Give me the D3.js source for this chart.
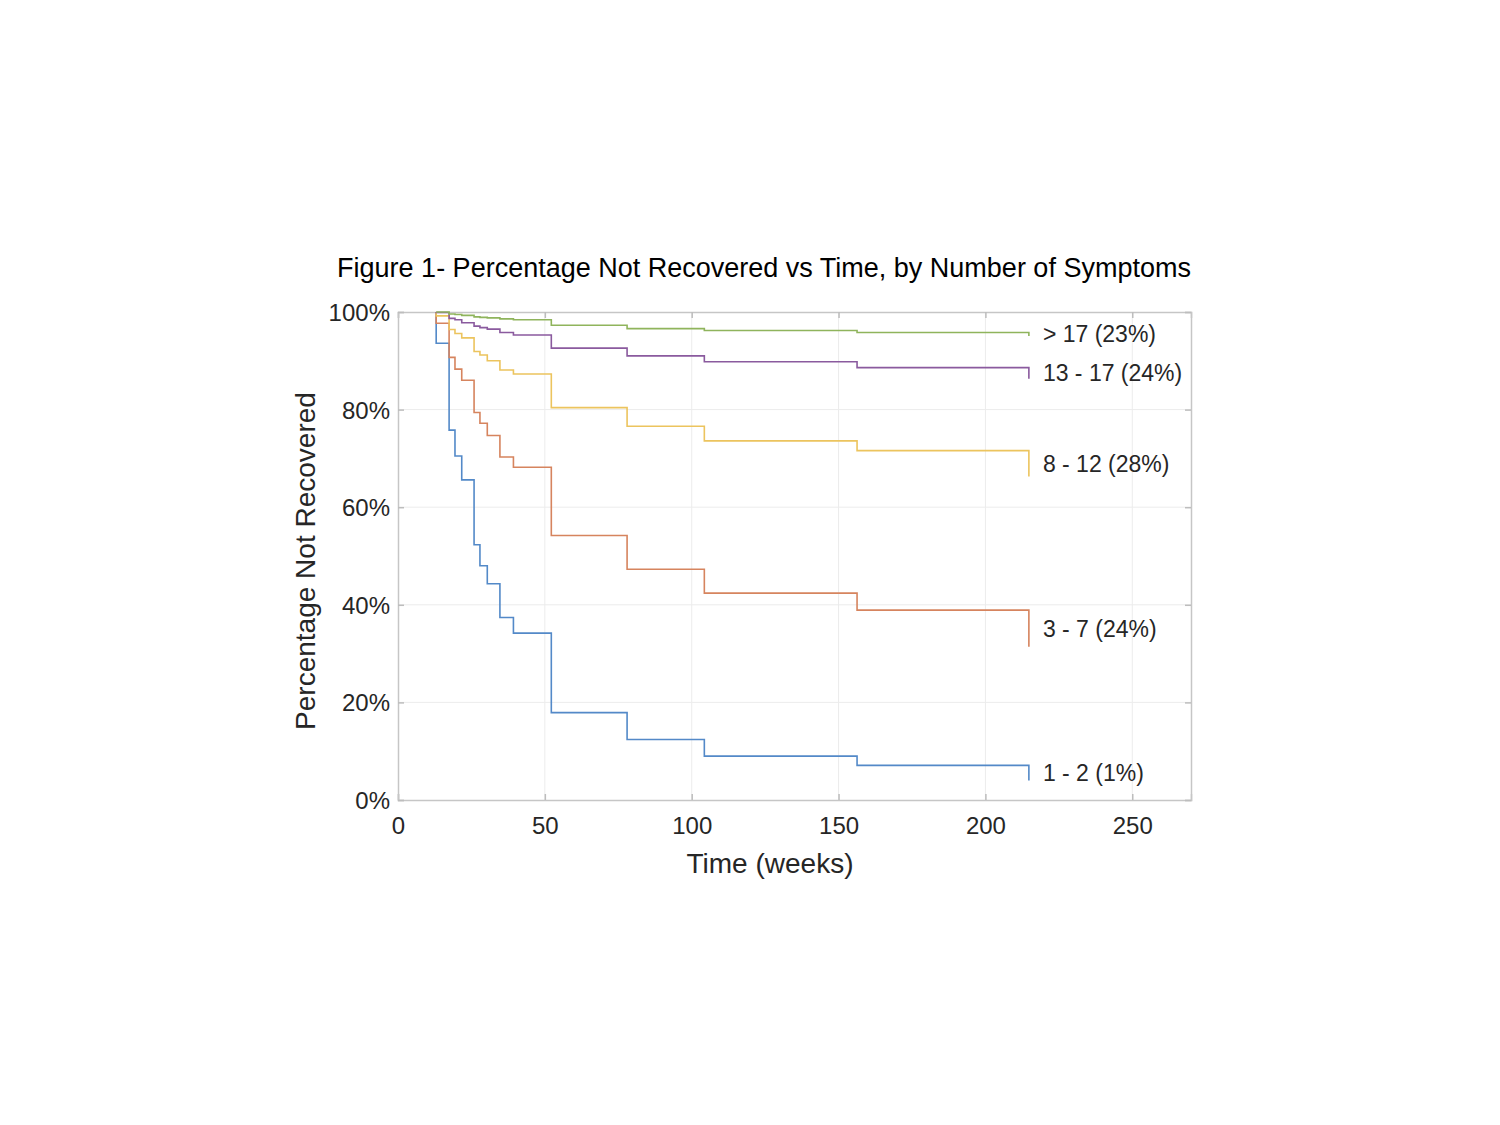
<!DOCTYPE html>
<html>
<head>
<meta charset="utf-8">
<script src="https://cdn.jsdelivr.net/npm/d3@7"></script>
<style>
  body { margin: 0; background: #fff; }
  text { font-family: "Liberation Sans", Arial, sans-serif; fill: #262626; }
</style>
</head>
<body>
<svg id="chart" width="1500" height="1125"></svg>
<script>
// step times (weeks), shared by all groups
var stepWeeks = [13, 17.4, 19.4, 21.7, 25.9, 27.9, 30.4, 34.7, 39.3, 52.2, 78, 104.3, 156.3, 214.8];

// percentage not recovered after each step
var group1to2   = [93.6, 75.8, 70.5, 65.6, 52.3, 48.0, 44.3, 37.4, 34.2, 17.9, 12.4, 9.0, 7.1, 4.0];
var group3to7   = [97.7, 90.7, 88.3, 86.0, 79.4, 77.2, 74.7, 70.3, 68.2, 54.2, 47.3, 42.4, 38.9, 31.4];
var group8to12  = [99.2, 96.4, 95.6, 94.7, 91.9, 91.2, 90.0, 88.1, 87.3, 80.4, 76.6, 73.6, 71.6, 66.3];
var group13to17 = [99.9, 98.7, 98.4, 97.8, 97.1, 96.8, 96.5, 95.8, 95.3, 92.6, 91.0, 89.8, 88.6, 86.3];
var groupOver17 = [100, 99.6, 99.5, 99.3, 99.0, 98.9, 98.8, 98.6, 98.4, 97.3, 96.6, 96.2, 95.8, 95.1];

var groupNames = ["1 - 2 (1%)", "3 - 7 (24%)", "8 - 12 (28%)", "13 - 17 (24%)", "> 17 (23%)"];
var groupColors = ["#5389c8", "#d6845e", "#ecc45e", "#8a5a9e", "#8fb45c"];

var xTicks = [0, 50, 100, 150, 200, 250];
var yTicks = [0, 20, 40, 60, 80, 100];

var svg = d3.select("#chart");
var plotLeft = 398, plotRight = 1191, plotTop = 312, plotBottom = 800;

var x = d3.scaleLinear().domain([0, 270]).range([plotLeft, plotRight]);
var y = d3.scaleLinear().domain([0, 100]).range([plotBottom, plotTop]);

// grid
svg.append("g").selectAll("line").data(xTicks.slice(1)).enter().append("line")
	.attr("x1", d => x(d)).attr("x2", d => x(d))
	.attr("y1", plotTop).attr("y2", plotBottom)
	.attr("stroke", "#ececec").attr("stroke-width", 1);
svg.append("g").selectAll("line").data(yTicks.slice(1, -1)).enter().append("line")
	.attr("x1", plotLeft).attr("x2", plotRight)
	.attr("y1", d => y(d)).attr("y2", d => y(d))
	.attr("stroke", "#ececec").attr("stroke-width", 1);

// axes with inward ticks
var xAxis = svg.append("g").attr("transform", "translate(0," + plotBottom + ")")
	.call(d3.axisBottom(x).tickValues(xTicks).tickSize(-6).tickPadding(12));
var xTop = svg.append("g").attr("transform", "translate(0," + plotTop + ")")
	.call(d3.axisTop(x).tickValues(xTicks).tickSize(-6).tickFormat(""));
var yAxis = svg.append("g").attr("transform", "translate(" + plotLeft + ",0)")
	.call(d3.axisLeft(y).tickValues(yTicks).tickSize(-6).tickPadding(8).tickFormat(d => d + "%"));
var yRight = svg.append("g").attr("transform", "translate(" + plotRight + ",0)")
	.call(d3.axisRight(y).tickValues(yTicks).tickSize(-6).tickFormat(""));

[xAxis, xTop, yAxis, yRight].forEach(function(a) {
	a.selectAll(".domain").attr("stroke", "#c6c6c6").attr("stroke-width", 1.5);
	a.selectAll(".tick line").attr("stroke", "#bdbdbd").attr("stroke-width", 1.5);
	a.selectAll(".tick text").attr("font-size", 24).attr("fill", "#262626")
		.attr("font-family", "Liberation Sans, Arial, sans-serif");
});
xAxis.selectAll(".tick text").attr("dy", "0.9em");
yAxis.selectAll(".tick text").attr("dy", "0.35em");

// curves
var groups = [group1to2, group3to7, group8to12, group13to17, groupOver17];
var line = d3.line().x(d => x(d[0])).y(d => y(d[1])).curve(d3.curveStepAfter);

groups.forEach(function(vals, i) {
	var pts = [[stepWeeks[0], 100]].concat(stepWeeks.map((t, j) => [t, vals[j]]));
	svg.append("path")
		.datum(pts)
		.attr("d", line)
		.attr("fill", "none")
		.attr("stroke", groupColors[i])
		.attr("stroke-width", 1.6);
	var n = vals.length;
	svg.append("text")
		.attr("x", x(stepWeeks[n - 1]) + 14)
		.attr("y", y((vals[n - 1] + vals[n - 2]) / 2))
		.attr("dy", "0.35em")
		.attr("font-size", 23)
		.text(groupNames[i]);
});

// title and axis labels
svg.append("text")
	.attr("x", 764).attr("y", 277)
	.attr("text-anchor", "middle")
	.attr("font-size", 27)
	.style("fill", "#000")
	.text("Figure 1- Percentage Not Recovered vs Time, by Number of Symptoms");

svg.append("text")
	.attr("x", 770).attr("y", 873)
	.attr("text-anchor", "middle")
	.attr("font-size", 28)
	.text("Time (weeks)");

svg.append("text")
	.attr("transform", "translate(315," + ((plotTop + plotBottom) / 2 + 5) + ") rotate(-90)")
	.attr("text-anchor", "middle")
	.attr("font-size", 28)
	.text("Percentage Not Recovered");
</script>
</body>
</html>
